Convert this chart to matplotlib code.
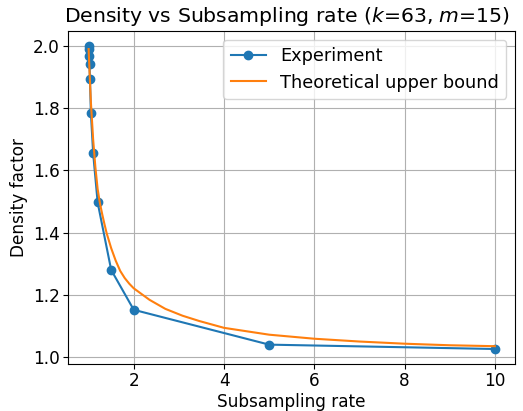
import matplotlib
matplotlib.use("Agg")
import matplotlib.pyplot as plt

# Experimental density vs subsampling rate
rate_exp = [1.0, 1.005, 1.01, 1.02, 1.03, 1.05, 1.1, 1.2, 1.5, 2.0, 5.0, 10.0]
density_exp = [2.0, 1.99, 1.968, 1.941, 1.893, 1.785, 1.656, 1.497, 1.28, 1.152, 1.04, 1.026]

# Theoretical upper bound curve
rate_theory = [1.0, 1.02, 1.05, 1.1, 1.15, 1.2, 1.25, 1.3, 1.35, 1.4, 1.5, 1.6, 1.7,
               1.8, 1.9, 2.0, 2.35, 2.7, 3.08, 3.45, 4.0, 5.0, 6.0, 7.0, 8.0, 9.0, 10.0]
density_theory = [1.99, 1.92, 1.82, 1.70, 1.61, 1.54, 1.495, 1.46, 1.428, 1.398, 1.35,
                  1.31, 1.277, 1.254, 1.236, 1.221, 1.184, 1.155, 1.133, 1.116, 1.094,
                  1.072, 1.059, 1.050, 1.043, 1.038, 1.035]

plt.rcParams["font.size"] = 12.2
plt.rcParams["xtick.major.pad"] = 2.5
plt.rcParams["ytick.major.pad"] = 2.5

fig, ax = plt.subplots(figsize=(5.23, 4.11), dpi=100)
fig.subplots_adjust(left=0.1306, right=0.985, top=0.925, bottom=0.114)

ax.plot(rate_exp, density_exp, marker="o", label="Experiment")
ax.plot(rate_theory, density_theory, label="Theoretical upper bound")
ax.set_xlabel("Subsampling rate", labelpad=2)
ax.set_ylabel("Density factor")
ax.set_title("Density vs Subsampling rate ($k$=63, $m$=15)", x=0.49)
ax.legend(fontsize=12.8)
ax.grid(True)

fig.savefig("out.png", dpi=100)
